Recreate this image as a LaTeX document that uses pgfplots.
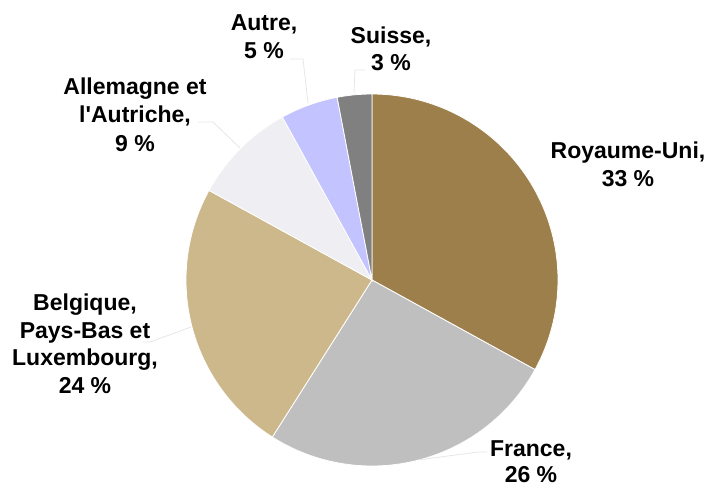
\documentclass[border=0pt]{standalone}
\usepackage{pgfplots}
\pgfplotsset{compat=1.18}
\usepackage{fontspec}
\setmainfont{Liberation Sans}
\definecolor{ukcol}{HTML}{9C7F4A}
\definecolor{frcol}{HTML}{BFBFBF}
\definecolor{becol}{HTML}{CDB88C}
\definecolor{decol}{HTML}{EFEFF3}
\definecolor{aucol}{HTML}{C3C3FF}
\definecolor{chcol}{HTML}{808080}
\definecolor{leader}{HTML}{E6E6E6}
\tikzset{lbl/.style={inner sep=0pt, anchor=base, font=\fontsize{23pt}{27.5pt}\selectfont\bfseries}}
% slice: start percent, end percent, colour
\newcommand{\pieslice}[3]{%
  \addplot[fill=#3, draw=white, line width=0.8pt, domain={3.6*#1}:{3.6*#2}, samples=90, variable=\t]
    ({372+186*sin(\t)}, {280-186*cos(\t)}) -- (axis cs:372,280) -- cycle;
}
\begin{document}
\begin{tikzpicture}
\useasboundingbox (0,0) rectangle (713pt,487pt);
\begin{axis}[
  scale only axis, width=713pt, height=487pt,
  xmin=0, xmax=713, ymin=0, ymax=487, y dir=reverse,
  hide axis, clip=false,
]
% shares (percent, cumulative): UK 33, France 26, BeNeLux 24, DE/AT 9, Autre 5, Suisse 3
\pieslice{0}{33}{ukcol}
\pieslice{33}{59}{frcol}
\pieslice{59}{83}{becol}
\pieslice{83}{92}{decol}
\pieslice{92}{97}{aucol}
\pieslice{97}{100}{chcol}
% leader lines
\addplot[draw=leader, line width=0.8pt] coordinates {(290,59) (303,59) (308,103)};
\addplot[draw=leader, line width=0.8pt] coordinates {(365,70) (355,70) (354,93)};
\addplot[draw=leader, line width=0.8pt] coordinates {(198,122) (213,122) (240,148)};
\addplot[draw=leader, line width=0.8pt] coordinates {(143,342) (150,342) (191,327)};
\addplot[draw=leader, line width=0.8pt] coordinates {(487,452) (478,452) (418,460)};
% labels
\node[lbl] at (axis cs:628,158) {Royaume-Uni,};
\node[lbl] at (axis cs:628,186) {33 \%};
\node[lbl] at (axis cs:531,456) {France,};
\node[lbl] at (axis cs:531,482) {26 \%};
\node[lbl] at (axis cs:85,310) {Belgique,};
\node[lbl] at (axis cs:85,338) {Pays-Bas et};
\node[lbl] at (axis cs:85,365.5) {Luxembourg,};
\node[lbl] at (axis cs:85,393) {24 \%};
\node[lbl] at (axis cs:135,95) {Allemagne et};
\node[lbl] at (axis cs:135,123) {l\textquotesingle Autriche,};
\node[lbl] at (axis cs:135,151) {9 \%};
\node[lbl] at (axis cs:264,31) {Autre,};
\node[lbl] at (axis cs:264,58.5) {5 \%};
\node[lbl] at (axis cs:391,44) {Suisse,};
\node[lbl] at (axis cs:391,71) {3 \%};
\end{axis}
\end{tikzpicture}
\end{document}
